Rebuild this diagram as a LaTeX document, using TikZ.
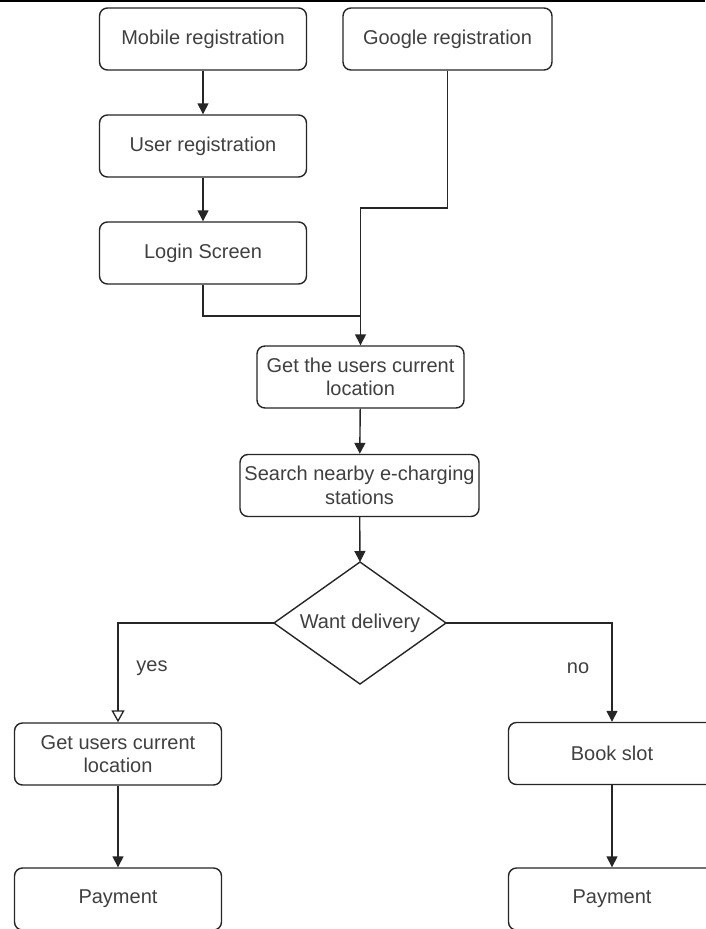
\documentclass[tikz,border=0pt]{standalone}
\usepackage{fontspec}
\setmainfont{Liberation Sans}
\usetikzlibrary{shapes.geometric,arrows.meta}
\begin{document}
\begin{tikzpicture}[x=1pt,y=1pt,
  font=\fontsize{20}{23.5}\selectfont,
  box/.style={draw=black!85, line width=1.4pt, rounded corners=8pt, minimum width=207pt, minimum height=62pt, align=center, text=black!75, inner sep=2pt},
  decision/.style={minimum width=172pt, minimum height=122pt, inner sep=0pt, outer sep=0pt, text=black!75},
  conn/.style={draw=black!85, line width=1.4pt},
  arr/.style={conn, -{Triangle[length=11pt,width=11pt]}},
  oarr/.style={conn, -{Triangle[open,length=12pt,width=13pt,line width=1.3pt]}},
  lbl/.style={text=black!75}]
\useasboundingbox (0,0) rectangle (705,-929);
\fill[white] (0,0) rectangle (705,-929);
\coordinate (tl) at (0,-1);
\coordinate (tr) at (705,-1);
\draw[line width=2pt, black] (tl) -- (tr);

\node[box] (mobile) at (203,-39) {Mobile registration};
\node[box, minimum width=209pt] (google) at (447.5,-39) {Google registration};
\node[box] (user) at (203,-146) {User registration};
\node[box] (login) at (203,-253) {Login Screen};
\node[box] (getloc) at (360.5,-377) {Get the users current\\location};
\node[box, minimum width=239pt] (search) at (359.5,-485.5) {Search nearby e-charging\\stations};
\node[decision] (dec) at (360,-623) {Want delivery};
\draw[draw=black!85, line width=1.4pt, line join=miter] (dec.north) -- (dec.east) -- (dec.south) -- (dec.west) -- cycle;
\node[box] (getul) at (118,-754) {Get users current\\location};
\node[box] (pay1) at (118,-899) {Payment};
\node[box] (book) at (612,-753.5) {Book slot};
\node[box] (pay2) at (612,-899) {Payment};

\coordinate (gbend) at (447.5,-208);
\coordinate (join) at (360.5,-316);

\draw[arr] (mobile) -- (user);
\draw[arr] (user) -- (login);
\draw[arr] (google.south) -- (gbend) -| (getloc.north);
\draw[conn] (login.south) |- (join);
\draw[arr] (getloc) -- (search);
\draw[arr] (search) -- (dec.north);
\draw[oarr] (dec.west) -| (getul.north);
\draw[arr] (dec.east) -| (book.north);
\draw[arr] (getul) -- (pay1);
\draw[arr] (book) -- (pay2);

\node[lbl] (yes) at (152,-668) {yes};
\node[lbl] (no) at (578,-668) {no};
\end{tikzpicture}
\end{document}
